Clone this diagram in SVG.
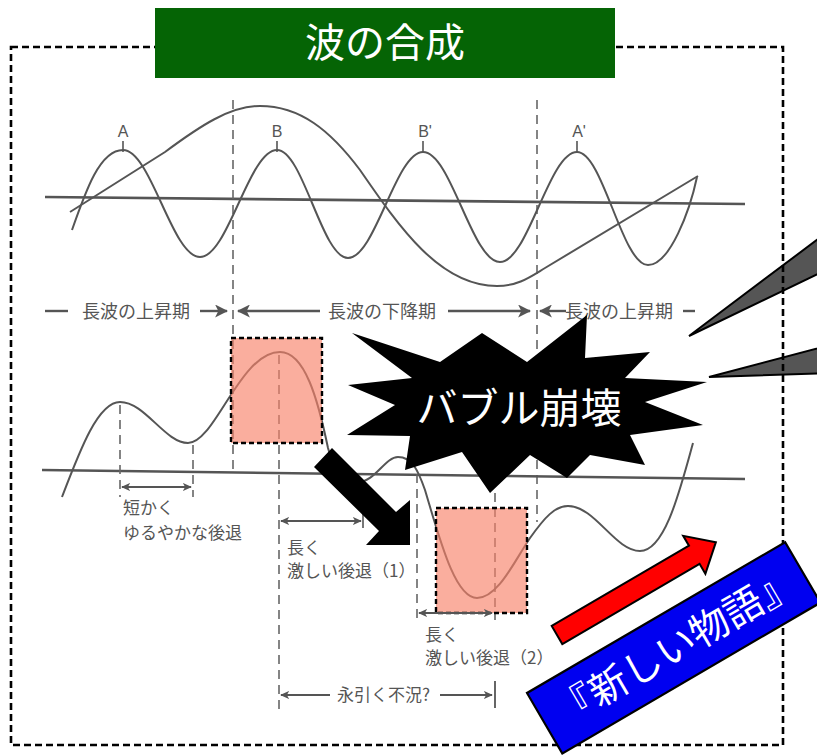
<svg xmlns="http://www.w3.org/2000/svg" width="817" height="756" viewBox="0 0 817 756">
<style>
.wave{fill:none;stroke:#555;stroke-width:2}
.axis{fill:none;stroke:#555;stroke-width:2.6}
.vd{fill:none;stroke:#666;stroke-width:1.6;stroke-dasharray:9,6}
.lbl{font-family:"Noto Sans CJK JP","Noto Sans",sans-serif;fill:#555;font-size:17px}
.row{font-family:"Noto Sans CJK JP","Noto Sans",sans-serif;fill:#555;font-size:18px}
.ab{font-family:"Liberation Sans",Arial,sans-serif;fill:#555;font-size:16px}
.gl{fill:none;stroke:#555;stroke-width:2.4}
.dl{fill:none;stroke:#555;stroke-width:1.8}
.pink{fill:#f7826a;fill-opacity:0.65;stroke:#000;stroke-width:2.4;stroke-dasharray:5,3}
.wh{font-family:"Noto Sans CJK JP","Noto Sans",sans-serif;fill:#fff}
</style>
<defs>
<marker id="ahL" viewBox="0 0 12 12" refX="11" refY="6" markerWidth="13" markerHeight="13" markerUnits="userSpaceOnUse" orient="auto-start-reverse"><path d="M0,0 L12,6 L0,12 L3,6 z" fill="#555"/></marker>
<marker id="ahS" viewBox="0 0 10 10" refX="9" refY="5" markerWidth="9" markerHeight="9" markerUnits="userSpaceOnUse" orient="auto-start-reverse"><path d="M0,0.5 L10,5 L0,9.5 L2.5,5 z" fill="#555"/></marker>
</defs>
<rect width="817" height="756" fill="#fff"/>

<g id="upper-chart">
<path class="axis" d="M45,197 L745,204"/>
<path class="vd" d="M233,100 V470"/>
<path class="vd" d="M537,100 V522"/>
<path class="wave" d="M72,230 C86,190 100,150 123,150 C151,150 172,257 200,257 C228,257 249,150 277,150 C303,150 322,258 348,258 C375,258 396,152 423,152 C451,152 472,262 500,262 C528,262 549,152 577,152 C603,152 622,265 648,265 C670,265 690,210 697,177"/>
<path class="wave" d="M70,212 L165,152 C200,126 230,106 260,106 C300,106 330,130 360,170 C400,228 440,286 497,286 C518,286 530,277 545,268 L698,176"/>
<g stroke="#555" stroke-width="1.6"><path d="M123,141V152M277,141V152M423,141V152M577,141V153"/></g>
<text class="ab" x="123" y="137" text-anchor="middle">A</text>
<text class="ab" x="277" y="137" text-anchor="middle">B</text>
<text class="ab" x="425" y="137" text-anchor="middle">B'</text>
<text class="ab" x="579" y="137" text-anchor="middle">A'</text>
</g>

<g id="phase-labels">
<path class="gl" d="M45,311 H68"/>
<text class="row" x="82" y="318">長波の上昇期</text>
<path class="gl" d="M200,311 H227" marker-end="url(#ahL)"/>
<path class="gl" d="M320,311 H238" marker-end="url(#ahL)"/>
<text class="row" x="328" y="318">長波の下降期</text>
<path class="gl" d="M448,311 H530" marker-end="url(#ahL)"/>
<path class="gl" d="M566,311 H540" marker-end="url(#ahL)"/>
<text class="row" x="565" y="318">長波の上昇期</text>
<path class="gl" d="M683,311 H695"/>
</g>

<g id="lower-chart">
<path class="axis" d="M42,470 L745,479"/>
<path class="vd" d="M120,405 V497"/>
<path class="vd" d="M193,445 V497"/>
<path class="vd" d="M279,355 V712"/>
<path class="vd" d="M417,474 V620"/>
<path class="vd" d="M495,478 V620"/>
<path class="wave" d="M62,497 C80,450 98,402 120,402 C145,402 165,443 188,443 C215,443 240,352 280,352 C305,352 318,400 328,448 C335,475 345,482 358,482 C375,482 385,457 398,457 C412,457 418,470 425,490 C440,540 455,598 477,598 C498,598 515,560 530,538 C545,517 555,506 568,506 C595,506 615,551 640,551 C665,551 680,490 693,443"/>
</g>

<g id="highlight-peak"><rect class="pink" x="231" y="338" width="91" height="105"/></g>
<g id="highlight-trough"><rect class="pink" x="436" y="508" width="91" height="105"/></g>

<g id="recession-labels">
<path class="dl" d="M122,487 H191" marker-start="url(#ahS)" marker-end="url(#ahS)"/>
<text class="lbl" x="123" y="514">短かく</text>
<text class="lbl" x="123" y="539">ゆるやかな後退</text>
<path class="dl" d="M281,521 H361" marker-start="url(#ahS)" marker-end="url(#ahS)"/>
<path stroke="#555" stroke-width="1.6" d="M363,514 V528"/>
<text class="lbl" x="287" y="554">長く</text>
<text class="lbl" x="287" y="577">激しい後退（1）</text>
<path class="dl" d="M419,613 H492" marker-start="url(#ahS)" marker-end="url(#ahS)"/>
<text class="lbl" x="425" y="641">長く</text>
<text class="lbl" x="425" y="664">激しい後退（2）</text>
<path class="dl" d="M330,695 H281" marker-end="url(#ahS)"/>
<text class="lbl" x="337" y="701">永引く不況?</text>
<path class="dl" d="M440,695 H492" marker-end="url(#ahS)"/>
<path stroke="#555" stroke-width="1.8" d="M495,681 V708"/>
</g>

<g id="connectors">
<polygon fill="#000" points="332,448 396,512 410,500 410,545 366,545 379,531 314,467"/>
<polygon fill="#f00" stroke="#000" stroke-width="2" stroke-linejoin="miter" transform="translate(557,635) rotate(-30.3)" points="0,-10.5 159,-10.5 159,-22 184,0 159,22 159,10.5 0,10.5"/>
</g>

<g id="bubble-burst">
<polygon fill="#000" points="352,333 440,362 482,333 527,362 587,315 585,358 650,352 625,378 707,382 645,402 703,425 630,435 645,465 590,455 567,478 530,455 490,493 462,452 405,470 410,436 347,435 395,405 348,385 412,378"/>
<text class="wh" x="519" y="423" font-size="41" text-anchor="middle">バブル崩壊</text>
</g>

<g id="callout">
<polygon fill="#555" stroke="#000" stroke-width="2" points="689,336 830,230 830,268"/>
<polygon fill="#555" stroke="#000" stroke-width="2" points="709,377 830,345 830,373"/>
</g>

<g id="frame">
<rect x="11" y="47" width="772" height="698" fill="none" stroke="#000" stroke-width="2.6" stroke-dasharray="7,4"/>
</g>

<g id="new-story" transform="translate(527,693) rotate(-30.3)">
<rect x="0" y="0" width="299" height="70" fill="#0000f0" stroke="#000" stroke-width="2.2"/>
<text class="wh" x="152" y="49" font-size="39" text-anchor="middle">『新しい物語』</text>
</g>

<g id="title">
<rect x="155" y="8" width="460" height="70" fill="#056405"/>
<text class="wh" x="385" y="57" font-size="40" text-anchor="middle">波の合成</text>
</g>
</svg>
